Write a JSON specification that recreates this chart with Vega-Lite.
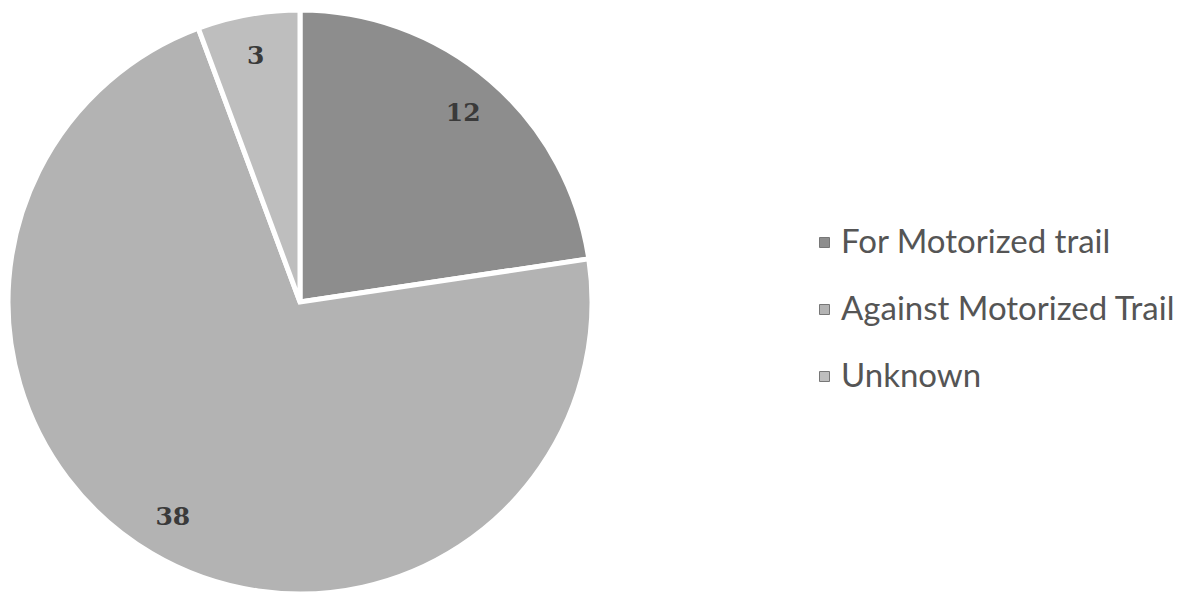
{
  "$schema": "https://vega.github.io/schema/vega-lite/v6.json",
  "width": 600,
  "height": 582,
  "autosize": {"type": "none"},
  "padding": {"left": 0, "top": 11, "right": 586, "bottom": 0},
  "background": "white",
  "config": {"view": {"stroke": null}},
  "data": {
    "values": [
      {"category": "For Motorized trail", "count": 12, "idx": 0},
      {"category": "Against Motorized Trail", "count": 38, "idx": 1},
      {"category": "Unknown", "count": 3, "idx": 2}
    ]
  },
  "encoding": {
    "theta": {"field": "count", "type": "quantitative", "stack": true},
    "order": {"field": "idx", "type": "quantitative"}
  },
  "layer": [
    {
      "mark": {"type": "arc", "radius": 292, "stroke": "white", "strokeWidth": 5},
      "encoding": {
        "color": {
          "field": "category",
          "type": "nominal",
          "sort": ["For Motorized trail", "Against Motorized Trail", "Unknown"],
          "scale": {
            "domain": ["For Motorized trail", "Against Motorized Trail", "Unknown"],
            "range": ["#8d8d8d", "#b3b3b3", "#bebebe"]
          },
          "legend": {
            "title": null,
            "orient": "none",
            "legendX": 808,
            "legendY": 215,
            "symbolType": "square",
            "symbolSize": 100,
            "symbolStrokeColor": "#777",
            "symbolStrokeWidth": 1,
            "labelFont": "Lato",
            "labelFontSize": 33,
            "labelLimit": 500,
            "labelColor": "#555555",
            "labelOffset": 0,
            "rowPadding": 33
          }
        }
      }
    },
    {
      "mark": {"type": "text", "radius": 250, "font": "DejaVu Serif", "fontSize": 25, "fontWeight": "bold", "fill": "#3a3a3a"},
      "encoding": {
        "text": {"field": "count", "type": "quantitative"}
      }
    }
  ]
}
